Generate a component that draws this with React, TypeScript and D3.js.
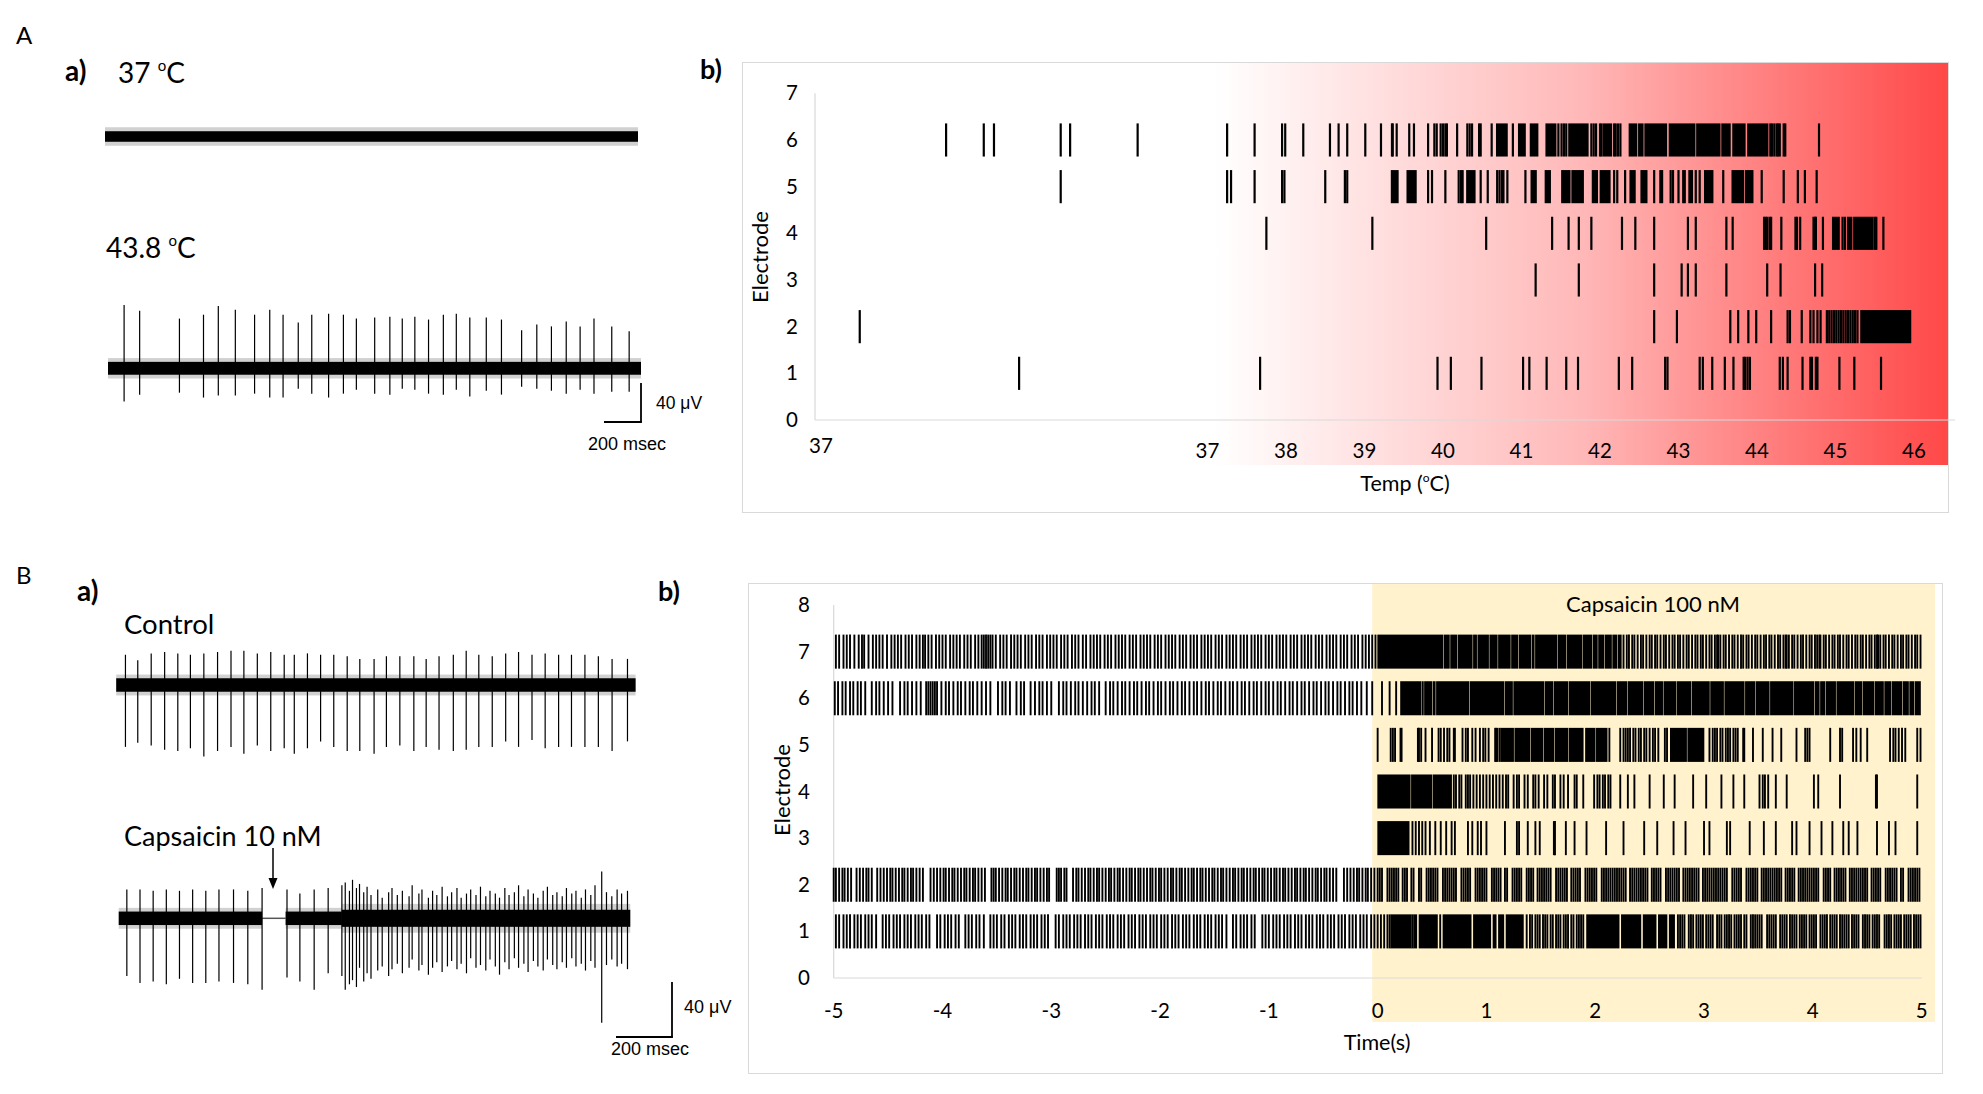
import React from "react";
import * as d3 from "d3";

// ================= Panel A a) : extracellular traces (ms, µV) =================
const traceDurationA = 2880;
const traceA2SpikeMs = [87,171,386,516,596,688,792,874,946,1028,1101,1192,1272,1342,1441,1523,1590,1658,1732,1812,1882,1955,2044,2126,2235,2317,2396,2476,2551,2626,2722,2816];
const traceA2UpUv = [65,59,51,55,64,60,55,60,55,47,55,56,55,51,52,53,51,53,50,55,56,52,52,50,39,45,43,48,43,51,43,38];
const traceA2DownUv = [34,27,25,30,28,28,26,30,30,21,26,30,26,22,26,27,21,22,26,27,22,29,23,27,19,21,23,26,22,26,24,24];
// noise band segments: [startMs, endMs, coreHalfUv, fuzzHalfUv]
const traceA1Bands = [[0, 2880, 5.4, 9.5]];
const traceA2Bands = [[0, 2880, 6.6, 10.5]];

// ================= Panel B a) : control & capsaicin traces =================
const traceDurationB = 1855;
const controlSpikeMs = [33,77,125,173,220,265,313,362,410,456,504,552,600,636,683,730,777,825,870,921,965,1013,1063,1107,1153,1204,1250,1295,1343,1391,1437,1485,1532,1580,1626,1674,1722,1771,1826];
const controlUpUv = [22,18,23,24,23,22,23,24,25,25,23,24,22,22,23,22,22,21,19,19,21,21,21,19,21,22,25,22,21,23,24,22,23,22,22,22,21,19,19];
const controlDownUv = [45,42,44,47,48,46,52,48,45,50,44,48,46,50,46,41,45,48,48,50,45,44,48,45,47,48,47,45,45,41,45,40,46,45,45,45,45,48,41];
const controlBands = [[0, 1855, 4.9, 7.6]];
const capSpikeMs = [38,85,132,179,226,273,320,367,419,470,521,
  610,656,707,757,806,818,833,844,858,869,884,896,910,934,950,973,985,1004,1022,1046,1057,1081,1092,1115,1130,1145,1164,1183,1198,1217,1232,1251,1266,1285,1301,1320,1335,1354,1369,1388,1403,1422,1437,1456,1471,1490,1506,1525,1540,1559,1574,1593,1608,1627,1642,1661,1676,1695,1710,1734,1751,1770,1789,1805,1826];
const capUpUv = [21,21,20,21,20,21,20,21,21,20,22,
  21,18,21,22,24,26,20,28,22,25,19,23,17,21,15,19,22,17,20,16,24,18,21,15,20,17,23,16,19,22,15,18,21,17,23,16,20,18,15,22,17,19,24,16,21,18,15,20,23,17,19,16,22,18,20,15,21,17,24,34,19,16,21,18,20];
const capDownUv = [42,47,46,48,44,47,47,46,47,48,52,
  43,46,52,40,42,52,48,45,50,36,46,40,44,38,35,42,37,33,40,36,30,38,34,41,36,32,39,35,31,37,33,40,29,36,34,38,30,35,41,32,37,29,36,33,39,31,35,38,30,34,37,32,36,29,35,33,38,31,36,76,34,30,35,33,37];
const capBands = [[9,521,4.9,7.6],[605,806,4.9,7.6],[806,1836,6.2,10.5]];
const capGap = [521, 605];

// ================= Panel A b) : raster vs temperature =================
// x values on the temperature axis (baseline period drawn on 32..37 of the same scale)
const aTickPos = [32,37,38,39,40,41,42,43,44,45,46];
const aTickLabels = ["37","37","38","39","40","41","42","43","44","45","46"];
const aYTicks = [0,1,2,3,4,5,6,7];

const a6Spikes = [33.67,34.15,34.28,35.13,35.25,36.11,37.25,37.60,37.95,37.99,38.22,38.56,38.67,38.78,39.01,39.21,39.35,39.36,39.41,39.57,39.63,39.81,39.89,39.92,39.97,40.00,40.03,40.05,40.18,40.31,40.34,40.37,40.46,40.48,40.62,40.89,41.47,41.51,41.54,41.57,41.89,41.92,41.95,42.00,42.02,42.18,42.20,42.23,42.26,44.17,44.19,44.22,44.25,44.27,44.29,44.34,44.36,44.79];
const a6Bursts = [[40.68,40.82],[40.96,41.05],[41.11,41.21],[41.31,41.44],[41.60,41.85],[42.04,42.15],[42.37,42.47],[42.49,42.55],[42.57,42.85],[42.88,43.21],[43.23,43.53],[43.55,43.66],[43.69,43.85],[43.88,44.14]];
const a5Spikes = [35.13,37.25,37.30,37.60,37.95,37.98,38.50,38.75,38.78,39.81,39.86,40.03,40.20,40.23,40.25,40.48,40.57,40.69,40.72,40.75,40.77,40.82,41.05,42.18,42.22,42.32,42.69,42.90,42.93,43.00,43.06,43.08,43.22,43.27,43.57,44.06,44.34,44.52,44.61,44.76];
const a5Bursts = [[39.34,39.43],[39.54,39.66],[40.30,40.41],[41.12,41.19],[41.30,41.37],[41.51,41.62],[41.64,41.79],[41.90,41.97],[42.00,42.13],[42.38,42.45],[42.52,42.60],[42.76,42.80],[43.13,43.18],[43.33,43.44],[43.68,43.83],[43.85,43.95]];
const a4Spikes = [37.75,39.10,40.55,41.39,41.60,41.73,41.89,42.28,42.45,42.69,43.12,43.22,43.61,43.69,44.09,44.11,44.13,44.16,44.18,44.31,44.49,44.51,44.55,44.72,44.74,44.75,44.84,45.09,45.12,45.50,45.52,45.61];
const a4Bursts = [[44.96,45.05],[45.15,45.21],[45.23,45.48]];
const a3Spikes = [41.18,41.73,42.69,43.04,43.12,43.22,43.61,44.13,44.30,44.74,44.83];
const a3Bursts = [];
const a2Spikes = [32.57,42.69,42.98,43.66,43.76,43.89,43.99,44.18,44.39,44.42,44.57,44.68,44.72,44.77,44.81,44.89,44.92,44.95,44.98,45.01,45.04,45.07,45.10,45.13,45.16,45.19,45.22,45.25,45.28];
const a2Bursts = [[45.32,45.96]];
const a1Spikes = [34.60,37.67,39.93,40.10,40.49,41.02,41.10,41.32,41.57,41.72,42.24,42.41,42.83,42.86,43.27,43.31,43.43,43.59,43.70,43.83,43.85,43.88,43.91,44.29,44.33,44.39,44.58,44.68,44.70,44.75,44.77,45.05,45.24,45.58];
const a1Bursts = [];

// ================= Panel B b) : raster vs time (centiseconds) =================
const bXTicks = [-5,-4,-3,-2,-1,0,1,2,3,4,5];
const bYTicks = [0,1,2,3,4,5,6,7,8];
const b7Spikes = [-498,-495,-491,-488,-485,-481,-477,-474,-472,-468,-464,-461,-458,-455,-451,-447,-444,-441,-438,-434,-431,-428,-424,-421,-418,-416,-413,-410,-406,-403,-400,-397,-393,-390,-387,-384,-380,-377,-374,-370,-367,-364,-362,-360,-358,-356,-354,-351,-347,-344,-341,-337,-334,-331,-328,-324,-321,-318,-314,-311,-308,-304,-301,-298,-295,-291,-288,-285,-281,-278,-275,-271,-268,-264,-261,-258,-255,-251,-248,-245,-241,-238,-235,-232,-228,-225,-222,-218,-215,-212,-209,-205,-202,-199,-195,-192,-189,-186,-182,-179,-176,-172,-169,-166,-162,-159,-156,-153,-149,-146,-143,-139,-136,-133,-130,-126,-123,-120,-116,-113,-110,-107,-103,-100,-97,-93,-90,-87,-84,-80,-77,-74,-70,-67,-64,-61,-57,-54,-51,-47,-44,-41,-38,-34,-31,-28,-24,-21,-18,-14,-11,-8,-5,-2,
  226,229,231,234,236,239,242,244,247,250,252,255,257,260,263,265,268,271,273,276,278,281,284,286,289,292,294,297,299,302,305,307,310,312,313,315,318,320,323,326,328,331,334,336,339,341,344,347,349,352,355,357,360,362,365,368,370,373,375,376,378,381,383,386,389,391,394,397,399,402,404,406,407,410,412,415,418,420,423,425,428,431,433,436,439,441,444,446,449,452,454,457,459,460,462,465,467,470,473,475,478,481,483,486,488,491,494,496,499];
const b7Bursts = [[0,60],[61,66],[67,73],[74,87],[88,91],[92,102],[103,110],[111,122],[123,129],[130,141],[142,144],[145,165],[166,173],[174,188],[189,197],[198,202],[203,208],[209,215],[216,220],[221,224]];
const b6Spikes = [-499,-496,-492,-489,-485,-482,-478,-475,-471,-465,-461,-458,-454,-450,-446,-439,-435,-432,-428,-424,-420,-415,-413,-411,-409,-407,-405,-401,-397,-394,-390,-386,-383,-379,-375,-372,-368,-364,-360,-356,-349,-345,-342,-338,-332,-328,-325,-319,-315,-311,-308,-304,-300,-293,-289,-286,-282,-278,-275,-271,-267,-263,-260,-256,-250,-246,-243,-239,-235,-232,-228,-224,-221,-217,-213,-210,-206,-202,-199,-195,-191,-188,-184,-180,-177,-173,-169,-166,-162,-158,-155,-151,-147,-144,-140,-136,-133,-129,-125,-122,-118,-114,-111,-107,-103,-100,-96,-92,-89,-85,-81,-78,-74,-70,-67,-63,-59,-56,-52,-48,-45,-41,-37,-34,-30,-26,-23,-19,-15,-10,-5,
  4,11,17];
const b6Bursts = [[21,40],[41,42],[43,50],[51,53],[54,84],[85,116],[117,124],[125,153],[154,161],[162,175],[176,195],[196,219],[220,229],[230,244],[245,254],[255,262],[263,274],[275,288],[289,305],[306,318],[319,337],[338,347],[348,360],[361,382],[383,401],[402,406],[407,411],[412,421],[422,438],[439,445],[446,456],[457,465],[466,472],[473,482],[483,488],[489,493],[494,499]];
const b5Spikes = [0,12,14,16,21,22,37,38,40,44,50,56,58,61,64,66,70,71,78,81,83,87,90,94,97,99,102,108,109,110,112,213,223,226,228,230,232,235,237,240,242,245,247,250,253,255,258,264,266,305,308,310,312,315,317,320,322,324,327,329,331,336,337,345,354,363,371,385,393,395,397,416,425,427,437,440,444,450,471,474,476,479,482,485,496,499];
const b5Bursts = [[113,125],[126,140],[141,152],[153,162],[163,175],[176,189],[191,200],[201,211],[269,284],[285,300]];
const b4Spikes = [70,72,75,77,81,83,85,88,91,94,97,100,103,106,109,112,115,118,120,125,128,130,135,138,143,145,148,153,156,161,163,168,171,175,181,183,189,199,202,204,207,209,212,214,223,230,236,250,263,273,290,302,316,327,337,351,354,356,359,366,376,401,405,425,458,459,496];
const b4Bursts = [[0,30],[31,50],[51,68]];
const b3Spikes = [32,35,38,41,44,48,53,58,63,68,71,83,87,92,95,100,117,128,130,138,145,149,162,163,173,181,192,210,226,245,257,272,283,300,305,321,324,342,355,366,381,385,397,408,418,428,433,441,459,470,476,496];
const b3Bursts = [[0,29]];
const b2Spikes = [-500,-498,-495,-492,-490,-487,-484,-479,-476,-473,-470,-468,-465,-460,-457,-454,-451,-448,-446,-443,-440,-437,-435,-432,-429,-427,-424,-421,-418,-411,-408,-405,-402,-399,-397,-394,-391,-389,-386,-383,-380,-378,-375,-372,-370,-367,-364,-361,-355,-353,-351,-348,-345,-342,-340,-337,-334,-332,-329,-326,-323,-321,-318,-315,-313,-310,-307,-304,-302,-295,-293,-291,-288,-286,-280,-277,-275,-272,-269,-266,-264,-261,-258,-256,-253,-250,-247,-245,-242,-239,-237,-234,-231,-228,-226,-223,-220,-218,-215,-212,-209,-207,-204,-201,-199,-196,-193,-190,-188,-185,-182,-180,-177,-174,-171,-169,-166,-163,-161,-158,-155,-152,-150,-147,-144,-142,-139,-136,-133,-131,-128,-125,-123,-120,-117,-114,-112,-109,-106,-104,-101,-98,-95,-93,-90,-87,-85,-82,-79,-76,-74,-71,-68,-66,-63,-60,-57,-55,-52,-49,-47,-44,-41,-38,-31,-28,-25,-22,-19,-17,-14,-11,-9,-6,-3,
  0,2,4,9,11,13,15,17,19,23,25,27,31,33,38,40,45,47,49,51,53,55,60,62,64,66,68,70,72,77,79,81,83,85,90,92,94,96,98,100,105,107,109,111,113,117,119,124,126,128,130,132,137,139,141,143,147,149,151,153,155,157,159,164,166,168,170,172,174,178,180,182,184,186,191,193,195,197,199,201,206,208,210,212,214,216,218,220,222,224,226,228,232,234,236,238,240,242,244,246,248,252,254,256,258,260,265,267,269,271,273,275,277,281,283,285,287,289,291,293,295,299,301,303,305,307,309,311,313,315,317,319,321,326,328,330,332,334,339,341,343,345,347,349,353,355,357,359,361,363,365,367,369,371,375,377,379,381,383,387,389,391,393,395,397,399,401,403,405,410,412,414,416,420,422,424,426,428,430,434,436,438,440,442,444,446,448,450,454,456,458,460,462,467,469,471,473,475,477,481,483,488,490,492,494,496,498];
const b2Bursts = [];
const b1Spikes = [-498,-495,-491,-488,-485,-481,-478,-475,-471,-468,-465,-461,-455,-452,-449,-445,-442,-439,-435,-432,-429,-425,-422,-419,-415,-412,-405,-402,-398,-395,-392,-388,-385,-379,-376,-373,-369,-366,-362,-356,-353,-350,-346,-343,-339,-336,-333,-329,-326,-323,-319,-316,-313,-309,-306,-303,-296,-293,-289,-286,-283,-279,-276,-273,-269,-266,-263,-259,-256,-253,-249,-246,-243,-239,-236,-233,-229,-226,-223,-219,-216,-213,-209,-206,-203,-199,-196,-193,-189,-186,-183,-179,-176,-173,-169,-166,-163,-159,-156,-153,-149,-146,-143,-139,-133,-130,-126,-123,-120,-116,-113,-106,-103,-100,-96,-93,-90,-86,-83,-80,-76,-73,-70,-66,-63,-60,-56,-53,-50,-46,-43,-40,-36,-33,-30,-26,-23,-20,-16,-13,-10,-6,-3,
  0,3,6,9,11,32,137,140,142,145,147,149,152,154,156,159,161,164,166,168,171,173,175,178,180,183,185,187,189,
  276,278,280,282,286,288,290,293,295,297,299,302,304,306,308,312,314,316,319,321,323,325,328,330,332,334,337,339,343,345,347,349,351,353,358,360,362,364,366,370,372,374,376,379,381,383,385,388,390,392,394,397,399,401,403,407,409,411,413,416,418,420,422,425,427,429,431,433,436,438,440,442,446,448,450,452,455,457,459,461,466,468,470,472,475,477,479,481,484,486,488,490,493,495,497,499];
const b1Bursts = [[12,31],[33,36],[38,55],[57,58],[60,86],[88,104],[106,109],[111,116],[118,134],[192,222],[224,242],[244,256],[258,266],[268,273]];

const SANS = "Lato, 'Open Sans', sans-serif";
const ARIAL = "'Liberation Sans', Arial, sans-serif";
const GRID = "#D9D9D9";

function Trace({ x, y, bands, spikes, up, down }) {
  return (
    <g>
      {bands.map((b, i) => (
        <rect key={"f" + i} x={x(b[0])} width={x(b[1]) - x(b[0])} y={y(b[3])} height={y(-b[3]) - y(b[3])} fill="#000" opacity={0.18} />
      ))}
      {bands.map((b, i) => (
        <rect key={"b" + i} x={x(b[0])} width={x(b[1]) - x(b[0])} y={y(b[2])} height={y(-b[2]) - y(b[2])} fill="#000" />
      ))}
      {spikes.map((t, i) => (
        <line key={"s" + i} x1={x(t)} x2={x(t)} y1={y(up[i])} y2={y(-down[i])} stroke="#000" strokeWidth={1.2} />
      ))}
    </g>
  );
}

function RasterRows({ rows, x, y, half, w, pad }) {
  return (
    <g>
      {rows.map((r) => (
        <g key={r.e}>
          {r.bursts.map((b, i) => {
            const x0 = x(b[0]) - pad;
            const x1 = x(b[1]) + pad;
            const ww = Math.max(x1 - x0, w);
            return <rect key={"b" + i} x={(x0 + x1) / 2 - ww / 2} width={ww} y={y(r.e + half)} height={y(r.e - half) - y(r.e + half)} fill="#000" />;
          })}
          {r.spikes.map((t, i) => (
            <line key={"s" + i} x1={x(t)} x2={x(t)} y1={y(r.e + half)} y2={y(r.e - half)} stroke="#000" strokeWidth={w} />
          ))}
        </g>
      ))}
    </g>
  );
}

function Deg({ pre, post = "", size, small }) {
  return (
    <>
      <tspan>{pre}</tspan>
      <tspan fontSize={small} dy={-size * 0.42}>o</tspan>
      <tspan dy={size * 0.42}>{"C" + post}</tspan>
    </>
  );
}

export default function App() {
  // ---- A a) scales
  const xA1 = d3.scaleLinear().domain([0, traceDurationA]).range([105, 638]);
  const xA2 = d3.scaleLinear().domain([0, traceDurationA]).range([108, 641]);
  const yA1 = d3.scaleLinear().domain([-40, 40]).range([136.5 + 39, 136.5 - 39]);
  const yA2 = d3.scaleLinear().domain([-40, 40]).range([368.3 + 39, 368.3 - 39]);
  // ---- B a) scales
  const xB = d3.scaleLinear().domain([0, traceDurationB]).range([116.2, 116.2 + traceDurationB * 0.28]);
  const yBc = d3.scaleLinear().domain([-40, 40]).range([685 + 55, 685 - 55]);
  const yBk = d3.scaleLinear().domain([-40, 40]).range([918.3 + 55, 918.3 - 55]);
  // ---- A b) scales
  const xAb = d3.scaleLinear().domain([32, 46]).range([815, 1914]);
  const yAb = d3.scaleLinear().domain([0, 7]).range([420, 93.3]);
  // ---- B b) scales
  const xBb = d3.scaleLinear().domain([-500, 500]).range([833.7, 1921.6]);
  const yBb = d3.scaleLinear().domain([0, 8]).range([978, 605]);

  const aRows = [
    { e: 6, spikes: a6Spikes, bursts: a6Bursts },
    { e: 5, spikes: a5Spikes, bursts: a5Bursts },
    { e: 4, spikes: a4Spikes, bursts: a4Bursts },
    { e: 3, spikes: a3Spikes, bursts: a3Bursts },
    { e: 2, spikes: a2Spikes, bursts: a2Bursts },
    { e: 1, spikes: a1Spikes, bursts: a1Bursts },
  ];
  const bRows = [
    { e: 7, spikes: b7Spikes, bursts: b7Bursts },
    { e: 6, spikes: b6Spikes, bursts: b6Bursts },
    { e: 5, spikes: b5Spikes, bursts: b5Bursts },
    { e: 4, spikes: b4Spikes, bursts: b4Bursts },
    { e: 3, spikes: b3Spikes, bursts: b3Bursts },
    { e: 2, spikes: b2Spikes, bursts: b2Bursts },
    { e: 1, spikes: b1Spikes, bursts: b1Bursts },
  ];

  const barA_x = xA2(traceDurationA);
  const barA_y = 422;
  const barB_x = xB(1985);
  const barB_y = 1037;

  return (
    <svg width={1983} height={1094} style={{ position: "absolute", left: 0, top: 0, background: "#fff" }} fontFamily={SANS}>
      <defs>
        <linearGradient id="heat" x1="0" x2="1" y1="0" y2="0">
          <stop offset="0" stopColor="#FFFFFF" />
          <stop offset="0.5" stopColor="#FFB8B8" />
          <stop offset="1" stopColor="#FF4848" />
        </linearGradient>
      </defs>
      <rect x={0} y={0} width={1983} height={1094} fill="#fff" />

      {/* ================= Panel A a) ================= */}
      <text x={16} y={44} fontSize={24}>A</text>
      <text x={65} y={81} fontSize={28} fontWeight="bold">a)</text>
      <text x={118} y={83} fontSize={28}><Deg pre="37 " size={28} small={15} /></text>
      <Trace x={xA1} y={yA1} bands={traceA1Bands} spikes={[]} up={[]} down={[]} />
      <text x={106} y={258} fontSize={28}><Deg pre="43.8 " size={28} small={15} /></text>
      <Trace x={xA2} y={yA2} bands={traceA2Bands} spikes={traceA2SpikeMs} up={traceA2UpUv} down={traceA2DownUv} />
      <line x1={barA_x} x2={barA_x} y1={barA_y} y2={barA_y - (yA2(0) - yA2(40))} stroke="#000" strokeWidth={1.8} />
      <line x1={xA2(traceDurationA - 200)} x2={barA_x + 0.9} y1={barA_y} y2={barA_y} stroke="#000" strokeWidth={1.8} />
      <text x={656} y={409} fontSize={17.5} fontFamily={ARIAL}>40 μV</text>
      <text x={588} y={450} fontSize={18} fontFamily={ARIAL}>200 msec</text>

      {/* ================= Panel A b) ================= */}
      <text x={700} y={79} fontSize={27} fontWeight="bold">b)</text>
      <rect x={742.5} y={62.5} width={1206} height={450} fill="none" stroke={GRID} strokeWidth={1} />
      <rect x={1215} y={63} width={733} height={402} fill="url(#heat)" />
      <line x1={xAb(32)} x2={xAb(32)} y1={yAb(0)} y2={yAb(7)} stroke={GRID} strokeWidth={1.2} />
      <line x1={xAb(32)} x2={1955} y1={yAb(0)} y2={yAb(0)} stroke={GRID} strokeWidth={1.2} />
      <RasterRows rows={aRows} x={xAb} y={yAb} half={0.355} w={2.2} pad={0.4} />
      {aYTicks.map((v) => (
        <text key={"ay" + v} x={798} y={yAb(v) + 7} fontSize={20.5} textAnchor="end">{v}</text>
      ))}
      {aTickPos.map((p, i) => (
        <text key={"ax" + i} x={xAb(p) + (i === 0 ? 6 : 0)} y={i === 0 ? 453 : 458} fontSize={20.5} textAnchor="middle">{aTickLabels[i]}</text>
      ))}
      <text transform="translate(768,257) rotate(-90)" fontSize={22} textAnchor="middle">Electrode</text>
      <text x={1405} y={491} fontSize={21.5} textAnchor="middle"><Deg pre="Temp (" post=")" size={21.5} small={12} /></text>

      {/* ================= Panel B a) ================= */}
      <text x={16} y={584} fontSize={24}>B</text>
      <text x={77} y={601} fontSize={28} fontWeight="bold">a)</text>
      <text x={124} y={634} fontSize={27.5}>Control</text>
      <Trace x={xB} y={yBc} bands={controlBands} spikes={controlSpikeMs} up={controlUpUv} down={controlDownUv} />
      <text x={124} y={846} fontSize={27}>Capsaicin 10 nM</text>
      <line x1={273} x2={273} y1={848} y2={880} stroke="#000" strokeWidth={1.5} />
      <polygon points="268.5,878 277.5,878 273,889" fill="#000" />
      <line x1={xB(capGap[0])} x2={xB(capGap[1])} y1={yBk(0)} y2={yBk(0)} stroke="#555" strokeWidth={1.5} />
      <Trace x={xB} y={yBk} bands={capBands} spikes={capSpikeMs} up={capUpUv} down={capDownUv} />
      <line x1={barB_x} x2={barB_x} y1={barB_y} y2={barB_y - (yBk(0) - yBk(40))} stroke="#000" strokeWidth={1.8} />
      <line x1={xB(1785)} x2={barB_x + 0.9} y1={barB_y} y2={barB_y} stroke="#000" strokeWidth={1.8} />
      <text x={684} y={1013} fontSize={18} fontFamily={ARIAL}>40 μV</text>
      <text x={611} y={1055} fontSize={18} fontFamily={ARIAL}>200 msec</text>

      {/* ================= Panel B b) ================= */}
      <text x={658} y={601} fontSize={27} fontWeight="bold">b)</text>
      <rect x={748.5} y={583.5} width={1194} height={490} fill="none" stroke={GRID} strokeWidth={1} />
      <rect x={xBb(-5)} y={584} width={1935 - xBb(-5)} height={438} fill="#FFF2CC" />
      <text x={1653} y={612} fontSize={22} textAnchor="middle">Capsaicin 100 nM</text>
      <line x1={xBb(-500)} x2={xBb(-500)} y1={yBb(0)} y2={yBb(8)} stroke={GRID} strokeWidth={1.2} />
      <line x1={xBb(-500)} x2={xBb(500)} y1={yBb(0)} y2={yBb(0)} stroke={GRID} strokeWidth={1.2} />
      <RasterRows rows={bRows} x={xBb} y={yBb} half={0.365} w={1.9} pad={0.3} />
      {bYTicks.map((v) => (
        <text key={"by" + v} x={810} y={yBb(v) + 7} fontSize={20.5} textAnchor="end">{v}</text>
      ))}
      {bXTicks.map((v) => (
        <text key={"bx" + v} x={xBb(v * 100)} y={1018} fontSize={20.5} textAnchor="middle">{v}</text>
      ))}
      <text transform="translate(790,790) rotate(-90)" fontSize={22} textAnchor="middle">Electrode</text>
      <text x={1377} y={1050} fontSize={21.5} textAnchor="middle">Time(s)</text>
    </svg>
  );
}
